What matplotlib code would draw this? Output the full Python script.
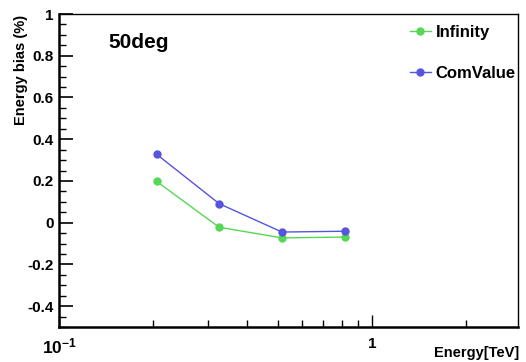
import matplotlib
matplotlib.use("Agg")
import matplotlib.pyplot as plt
from matplotlib.ticker import FixedLocator, NullFormatter, MultipleLocator

energy = [0.205, 0.325, 0.516, 0.818]
infinity = [0.198, -0.022, -0.073, -0.069]
comvalue = [0.328, 0.091, -0.045, -0.041]
series_names = ["Infinity", "ComValue"]
title_text = "50deg"
xlabel = "Energy[TeV]"
ylabel = "Energy bias (%)"
ytick_vals = [-0.4, -0.2, 0, 0.2, 0.4, 0.6, 0.8, 1]
ytick_labels = ["-0.4", "-0.2", "0", "0.2", "0.4", "0.6", "0.8", "1"]

green = "#55d855"
blue = "#5555dd"

plt.rcParams['font.family'] = ['Liberation Sans', 'DejaVu Sans']
plt.rcParams['font.weight'] = 'bold'
plt.rcParams['mathtext.fontset'] = 'custom'
plt.rcParams['mathtext.rm'] = 'Liberation Sans:bold'
plt.rcParams['mathtext.bf'] = 'Liberation Sans:bold'

fig = plt.figure(figsize=(5.26, 3.62), dpi=100)
W, H = 526, 362
L, R, T, B = 59, 518, 14, 327
ax = fig.add_axes([L / W, (H - B) / H, (R - L) / W, (B - T) / H])

ax.plot(energy, infinity, color=green, lw=1.0, marker='o', ms=5, mec=green, mfc=green, label=series_names[0])
ax.plot(energy, comvalue, color=blue, lw=1.0, marker='o', ms=5, mec=blue, mfc=blue, label=series_names[1])

ax.set_xscale('log')
ax.set_xlim(0.1, 2.93)
ax.set_ylim(-0.5, 1.0)

for s in ['left', 'bottom']:
    ax.spines[s].set_linewidth(1.8)
for s in ['top', 'right']:
    ax.spines[s].set_linewidth(1.0)

ax.yaxis.set_major_locator(FixedLocator(ytick_vals))
ax.set_yticklabels(ytick_labels)
ax.yaxis.set_minor_locator(MultipleLocator(0.05))
ax.tick_params(axis='y', which='major', direction='in', length=10, width=1.2, labelsize=11, pad=4)
ax.tick_params(axis='y', which='minor', direction='in', length=5, width=1.0)

ax.xaxis.set_major_locator(FixedLocator([0.1, 1.0]))
ax.set_xticklabels([r"$\mathbf{10^{-1}}$", "1"])
ax.xaxis.set_minor_locator(FixedLocator([0.2, 0.3, 0.4, 0.5, 0.6, 0.7, 0.8, 0.9, 2.0]))
ax.xaxis.set_minor_formatter(NullFormatter())
ax.tick_params(axis='x', which='major', direction='in', length=9, width=1.0, labelsize=11, pad=7)
ax.tick_params(axis='x', which='minor', direction='in', length=5, width=1.0)
for lab in ax.get_yticklabels() + ax.get_xticklabels():
    lab.set_fontweight('bold')
ax.get_xticklabels()[0].set_fontsize(12.5)

fig.text(519 / W, 1 - 353 / H, xlabel, ha='right', va='center', fontsize=10.5, fontweight='bold')
fig.text(21 / W, 1 - 15 / H, ylabel, ha='center', va='top', rotation=90, fontsize=10.5, fontweight='bold')
fig.text(108 / W, 1 - 43 / H, title_text, ha='left', va='center', fontsize=15, fontweight='bold')

leg = ax.legend(loc='upper left', bbox_to_anchor=((410 - L) / (R - L), 1 - (25 - T) / (B - T)),
                frameon=False, fontsize=12, handlelength=1.25, handletextpad=0.3,
                labelspacing=1.55, borderaxespad=0, borderpad=0)
for t in leg.get_texts():
    t.set_fontweight('bold')

fig.savefig("out.png", dpi=100)
